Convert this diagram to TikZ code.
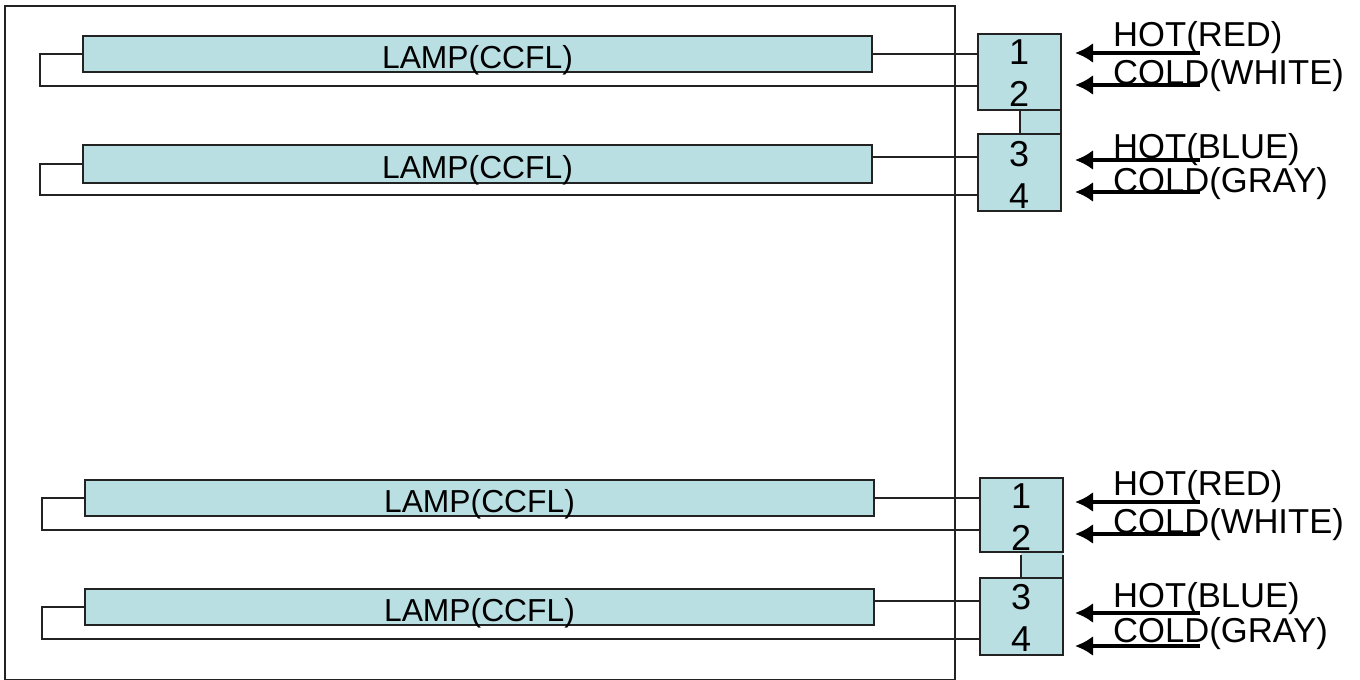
\documentclass[tikz,border=0pt]{standalone}
\usepackage{fontspec}
\setmainfont{Liberation Sans}
\usetikzlibrary{arrows.meta}
\definecolor{lampfill}{HTML}{B9DFE3}
\definecolor{ink}{HTML}{222222}
\tikzset{
  lampbox/.style={draw=ink,line width=1.5pt,fill=lampfill,minimum width=789pt,minimum height=#1,inner sep=0pt,outer sep=0pt,text=black,text height=28pt,text depth=0pt,font=\fontsize{31.8pt}{32pt}\selectfont},
  connbox/.style={draw=ink,line width=1.5pt,fill=lampfill,minimum width=83pt,minimum height=#1,inner sep=0pt,outer sep=0pt},
  digit/.style={anchor=base,inner sep=0pt,font=\fontsize{36pt}{37pt}\selectfont,text=black},
  wire/.style={draw=ink,line width=1.5pt},
  sig/.style={anchor=base west,inner sep=0pt,font=\fontsize{34.6pt}{35pt}\selectfont,text=black},
  feed/.style={draw=black,line width=4pt,-{Latex[length=18pt,width=20pt]}}
}
\begin{document}
\begin{tikzpicture}[x=1pt,y=-1pt]
\useasboundingbox (0,0) rectangle (1360,680);
\fill[white] (0,0) rectangle (1360,680);
\node[draw=ink,line width=1.5pt,minimum width=950pt,minimum height=674pt,inner sep=0pt,outer sep=0pt] (frame) at (480,343) {};

% lamps
\node[lampbox=36pt] (lampA) at (477.5,54) {LAMP(CCFL)};
\node[lampbox=38pt] (lampB) at (477.5,164) {LAMP(CCFL)};
\node[lampbox=36pt] (lampC) at (479.5,498) {LAMP(CCFL)};
\node[lampbox=36pt] (lampD) at (479.5,607) {LAMP(CCFL)};

% links between connectors
\node[connbox=26pt,minimum width=41pt] (linkT) at (1040.5,122) {};
\fill[lampfill] (1021,552) rectangle (1063,578);
\coordinate (linkBa) at (1021,555);
\coordinate (linkBb) at (1021,578);
\coordinate (linkBc) at (1063,555);
\coordinate (linkBd) at (1063,578);
\draw[wire] (linkBa) -- (linkBb);
\draw[wire] (linkBc) -- (linkBd);

% connectors
\node[connbox=76pt] (boxA) at (1019.5,72) {};
\node[connbox=77pt] (boxB) at (1019.5,172.5) {};
\node[connbox=74pt] (boxC) at (1021.5,515) {};
\node[connbox=77pt] (boxD) at (1021.5,616.5) {};

% wires
\coordinate (loopA) at (40,86);
\coordinate (loopB) at (40,195);
\coordinate (loopC) at (42,530);
\coordinate (loopD) at (42,639);
\draw[wire] (lampA.west) -| (loopA) -- (boxA.west |- loopA);
\draw[wire] (lampB.west) -| (loopB) -- (boxB.west |- loopB);
\draw[wire] (lampC.west) -| (loopC) -- (boxC.west |- loopC);
\draw[wire] (lampD.west) -| (loopD) -- (boxD.west |- loopD);
\draw[wire] (lampA.east) -- (boxA.west |- lampA.east);
\coordinate (hotB) at (1000,157);
\coordinate (hotD) at (1000,601);
\draw[wire] (lampB.east |- hotB) -- (boxB.west |- hotB);
\draw[wire] (lampC.east) -- (boxC.west |- lampC.east);
\draw[wire] (lampD.east |- hotD) -- (boxD.west |- hotD);

% digits
\node[digit] (d1) at (1019,64) {1};
\node[digit] (d2) at (1019,106) {2};
\node[digit] (d3) at (1019,166) {3};
\node[digit] (d4) at (1019,208) {4};
\node[digit] (d5) at (1021,508) {1};
\node[digit] (d6) at (1021,550) {2};
\node[digit] (d7) at (1021,609) {3};
\node[digit] (d8) at (1021,651) {4};

% labels
\node[sig] (s1) at (1113,46) {HOT(RED)};
\node[sig] (s2) at (1113,84) {COLD(WHITE)};
\node[sig] (s3) at (1113,158) {HOT(BLUE)};
\node[sig] (s4) at (1113,192) {COLD(GRAY)};
\node[sig] (s5) at (1113,495) {HOT(RED)};
\node[sig] (s6) at (1113,533) {COLD(WHITE)};
\node[sig] (s7) at (1113,607) {HOT(BLUE)};
\node[sig] (s8) at (1113,642) {COLD(GRAY)};

% feed arrows
\foreach \n/\y in {a/53,b/85,c/160,d/192,e/502,f/534,g/613,h/646}{
  \coordinate (from\n) at (1200,\y);
  \coordinate (to\n) at (1075,\y);
  \draw[feed] (from\n) -- (to\n);
}
\end{tikzpicture}
\end{document}
